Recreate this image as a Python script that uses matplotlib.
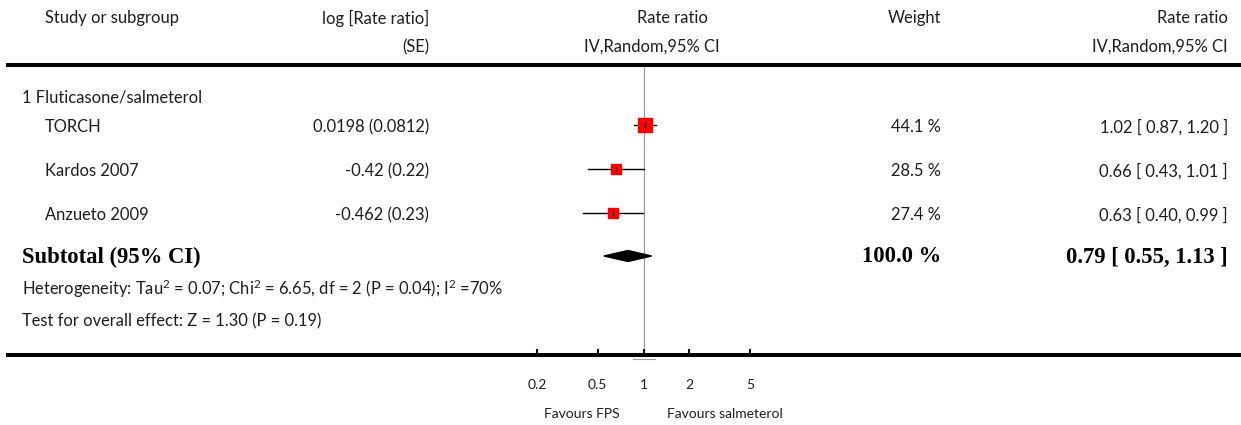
import numpy as np
import matplotlib.pyplot as plt
from matplotlib.patches import Polygon

W, H = 1241, 425

studies = ["TORCH", "Kardos 2007", "Anzueto 2009"]
log_rr = ["0.0198", "-0.42", "-0.462"]
log_se = ["0.0812", "0.22", "0.23"]
rate_ratio = [1.02, 0.66, 0.63]
ci_low = [0.87, 0.43, 0.40]
ci_high = [1.20, 1.01, 0.99]
weights = [44.1, 28.5, 27.4]

sub_rr, sub_low, sub_high = 0.79, 0.55, 1.13
sub_weight = 100.0
heterogeneity = r"Heterogeneity: Tau$^{2}$ = 0.07; Chi$^{2}$ = 6.65, df = 2 (P = 0.04); I$^{2}$ =70%"
overall = "Test for overall effect: Z = 1.30 (P = 0.19)"
ticks = [0.2, 0.5, 1, 2, 5]
tick_labels = ["0.2", "0.5", "1", "2", "5"]

# pixel layout
x0_line, x1_line = 8, 1241
y_top, y_bot = 65, 355
x_null, decade = 643.5, 152.4
row_y = [127, 171, 215]
sub_y = 257

FONT = "Lato"
TXT = "#1e1e1e"
fs = 11.9

plt.rcParams["mathtext.fontset"] = "custom"
plt.rcParams["mathtext.rm"] = FONT
plt.rcParams["mathtext.default"] = "regular"

fig = plt.figure(figsize=(W / 100, H / 100), dpi=100)

# overlay in pixel coordinates for the text columns
tx = fig.add_axes([0, 0, 1, 1])
tx.set_xlim(0, W)
tx.set_ylim(H, 0)
tx.axis("off")

# forest axes on a log scale, spanning the full rule width
ax = fig.add_axes([x0_line / W, (H - y_bot) / H, (x1_line - x0_line) / W, (y_bot - y_top) / H])
ax.patch.set_alpha(0)
ax.set_xscale("log")
ax.set_xlim(10 ** ((x0_line - x_null) / decade), 10 ** ((x1_line - x_null) / decade))
ax.set_ylim(y_bot, y_top)
for s in ["left", "right"]:
    ax.spines[s].set_visible(False)
for s in ["top", "bottom"]:
    ax.spines[s].set_linewidth(2.9)
    ax.spines[s].set_color("black")
ax.set_yticks([])
ax.set_xticks(ticks)
ax.set_xticklabels(tick_labels, fontfamily=FONT, fontsize=10, color=TXT)
ax.xaxis.set_minor_locator(plt.NullLocator())
ax.tick_params(axis="x", direction="in", length=4, width=1.5, pad=17, colors="black", labelcolor=TXT)

ax.axvline(1, color="#9a9a9a", lw=0.9, zorder=1)
tx.plot([633, 655], [359, 359], color="#9a9a9a", lw=0.8)

# study estimates
for rr, lo, hi, w, y in zip(rate_ratio, ci_low, ci_high, weights, row_y):
    ax.plot([lo, hi], [y - 2, y - 2], color="black", lw=1.0, zorder=2)
    ax.plot(rr, y - 2, marker="s", ms=1.45 * np.sqrt(w), color="#ff0000", mec="#ff0000", zorder=3)
    ax.plot(rr, y - 2, marker="|", ms=4, mew=1.0, color="#333333", zorder=4)

# pooled diamond
dh = 5.5
dy = sub_y - 1
ax.add_patch(Polygon([(sub_low, dy), (sub_rr, dy - dh), (sub_high, dy), (sub_rr, dy + dh)],
                     closed=True, color="black", zorder=3))

# header
tkw = dict(fontfamily=FONT, fontsize=fs, color=TXT, va="center")
tx.text(45, 18, "Study or subgroup", ha="left", **tkw)
tx.text(429, 18, "log [Rate ratio]", ha="right", **tkw)
tx.text(429, 47, "(SE)", ha="right", **tkw)
tx.text(672, 18, "Rate ratio", ha="center", **tkw)
tx.text(652, 47, "IV,Random,95% CI", ha="center", **tkw)
tx.text(941, 18, "Weight", ha="right", **tkw)
tx.text(1228, 18, "Rate ratio", ha="right", **tkw)
tx.text(1228, 47, "IV,Random,95% CI", ha="right", **tkw)

tx.text(22, 97, "1 Fluticasone/salmeterol", ha="left", **tkw)
for name, lr, se, rr, lo, hi, w, y in zip(studies, log_rr, log_se, rate_ratio, ci_low, ci_high, weights, row_y):
    tx.text(45, y, name, ha="left", **tkw)
    tx.text(429, y, f"{lr} ({se})", ha="right", **tkw)
    tx.text(941, y, f"{w:.1f} %", ha="right", **tkw)
    tx.text(1228, y, f"{rr:.2f} [ {lo:.2f}, {hi:.2f} ]", ha="right", **tkw)

bkw = dict(fontfamily="Liberation Serif", fontweight="bold", fontsize=16.3, color="black", va="center")
tx.text(22, sub_y, "Subtotal (95% CI)", ha="left", **bkw)
tx.text(941, sub_y, f"{sub_weight:.1f} %", ha="right", **bkw)
tx.text(1228, sub_y, f"{sub_rr:.2f} [ {sub_low:.2f}, {sub_high:.2f} ]", ha="right", **bkw)

tx.text(22, 289, heterogeneity, ha="left", **tkw)
tx.text(22, 321, overall, ha="left", **tkw)

tx.text(582, 414, "Favours FPS", ha="center", fontfamily=FONT, fontsize=10, color=TXT, va="center")
tx.text(725, 414, "Favours salmeterol", ha="center", fontfamily=FONT, fontsize=10, color=TXT, va="center")

fig.savefig("out.png", dpi=100)
